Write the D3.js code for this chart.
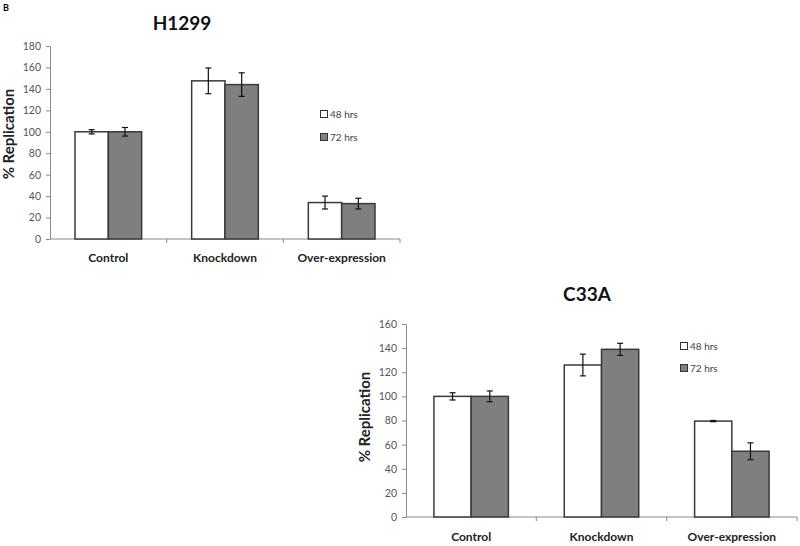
<!DOCTYPE html>
<html>
<head>
<meta charset="utf-8">
<script src="https://cdn.jsdelivr.net/npm/d3@7"></script>
<style>
  html, body { margin: 0; padding: 0; background: #fff; }
  svg { display: block; }
</style>
</head>
<body>
<script>
// ---- data ----
const categories = ["Control", "Knockdown", "Over-expression"];
const seriesNames = ["48 hrs", "72 hrs"];
const h1299Values48 = [100, 147.5, 34];
const h1299Errors48 = [2, 12, 6];
const h1299Values72 = [100, 144, 33];
const h1299Errors72 = [4, 11, 5];
const h1299Ticks = [0, 20, 40, 60, 80, 100, 120, 140, 160, 180];
const c33aValues48 = [100, 126, 79.5];
const c33aErrors48 = [3, 9, 0.5];
const c33aValues72 = [100, 139, 54.5];
const c33aErrors72 = [4.5, 5, 7];
const c33aTicks = [0, 20, 40, 60, 80, 100, 120, 140, 160];

const W = 800, H = 546;
const svg = d3.select("body").append("svg").attr("width", W).attr("height", H);
const FONT = "Lato, 'Open Sans', sans-serif";
const fills = ["#ffffff", "#7f7f7f"];

svg.append("text").attr("x", 3).attr("y", 11).text("B")
  .attr("font-family", FONT).attr("font-weight", "bold").attr("font-size", 9).attr("fill", "#000");

function drawChart(cfg) {
  const g = svg.append("g");
  const x = d3.scaleBand().domain(categories).range(cfg.xr).paddingInner(0).paddingOuter(0);
  const x1 = d3.scaleBand().domain(seriesNames).range([0, x.bandwidth()]).paddingInner(0).paddingOuter(0.75);
  const y = d3.scaleLinear().domain([0, d3.max(cfg.ticks)]).range(cfg.yr);

  // y axis
  const yAxis = g.append("g").attr("transform", `translate(${cfg.xr[0]},0)`)
    .call(d3.axisLeft(y).tickValues(cfg.ticks).tickSize(4).tickPadding(5).tickSizeOuter(0));
  yAxis.select(".domain").attr("stroke", "#8a8a8a");
  yAxis.selectAll(".tick line").attr("stroke", "#8a8a8a");
  yAxis.selectAll(".tick text").attr("font-family", FONT).attr("font-size", 10.5).attr("fill", "#555");

  // x axis
  const xAxisG = g.append("g").attr("transform", `translate(0,${cfg.yr[0]})`);
  xAxisG.append("line").attr("x1", cfg.xr[0]).attr("x2", cfg.xr[1]).attr("y1", 0).attr("y2", 0).attr("stroke", "#8a8a8a");
  const bounds = categories.map(c => x(c)).concat([x(categories[categories.length - 1]) + x.bandwidth()]);
  xAxisG.selectAll("line.bt").data(bounds.slice(1)).join("line").attr("class", "bt")
    .attr("x1", d => d).attr("x2", d => d).attr("y1", 0).attr("y2", 4).attr("stroke", "#8a8a8a");
  xAxisG.selectAll("text").data(categories).join("text")
    .attr("x", d => x(d) + x.bandwidth() / 2).attr("y", cfg.xLabelY - cfg.yr[0])
    .attr("text-anchor", "middle").attr("font-family", FONT).attr("font-weight", "bold")
    .attr("font-size", 12).attr("fill", "#222").text(d => d);

  // bars
  const rows = [];
  categories.forEach((c, i) => {
    seriesNames.forEach((s, j) => {
      rows.push({ c, s, j, v: cfg.values[j][i], e: cfg.errors[j][i] });
    });
  });
  g.selectAll("rect.bar").data(rows).join("rect").attr("class", "bar")
    .attr("x", d => x(d.c) + x1(d.s)).attr("width", x1.bandwidth())
    .attr("y", d => y(d.v)).attr("height", d => y(0) - y(d.v))
    .attr("fill", d => fills[d.j]).attr("stroke", "#3a3a3a").attr("stroke-width", 1.5);

  // error bars
  const eg = g.selectAll("g.err").data(rows).join("g").attr("class", "err");
  eg.append("line")
    .attr("x1", d => x(d.c) + x1(d.s) + x1.bandwidth() / 2)
    .attr("x2", d => x(d.c) + x1(d.s) + x1.bandwidth() / 2)
    .attr("y1", d => y(d.v + d.e)).attr("y2", d => y(d.v - d.e))
    .attr("stroke", "#111").attr("stroke-width", 1.2);
  ["top", "bot"].forEach(k => {
    eg.append("line")
      .attr("x1", d => x(d.c) + x1(d.s) + x1.bandwidth() / 2 - 3)
      .attr("x2", d => x(d.c) + x1(d.s) + x1.bandwidth() / 2 + 3)
      .attr("y1", d => y(k === "top" ? d.v + d.e : d.v - d.e))
      .attr("y2", d => y(k === "top" ? d.v + d.e : d.v - d.e))
      .attr("stroke", "#111").attr("stroke-width", 1.2);
  });

  // y label
  g.append("text")
    .attr("transform", `translate(${cfg.yLabelX},${cfg.yLabelY}) rotate(-90)`)
    .attr("text-anchor", "middle").attr("font-family", FONT).attr("font-weight", "bold")
    .attr("font-size", 15).attr("fill", "#222").text("% Replication");

  // title
  g.append("text").attr("x", cfg.titleX).attr("y", cfg.titleY).attr("text-anchor", "middle")
    .attr("font-family", FONT).attr("font-weight", "bold").attr("font-size", 19).attr("fill", "#111")
    .text(cfg.title);

  // legend
  const lg = g.selectAll("g.leg").data(seriesNames).join("g").attr("class", "leg")
    .attr("transform", (d, i) => `translate(${cfg.legX},${cfg.legY + i * cfg.legGap})`);
  lg.append("rect").attr("x", -3.5).attr("y", -3.5).attr("width", 7).attr("height", 7)
    .attr("fill", (d, i) => fills[i]).attr("stroke", "#333").attr("stroke-width", 1);
  lg.append("text").attr("x", 6).attr("y", 3.5).attr("font-family", FONT).attr("font-size", 10)
    .attr("fill", "#444").text(d => d);
}

drawChart({
  title: "H1299", titleX: 182, titleY: 30,
  xr: [50, 400], yr: [239, 46], ticks: h1299Ticks,
  values: [h1299Values48, h1299Values72], errors: [h1299Errors48, h1299Errors72],
  xLabelY: 262, yLabelX: 14, yLabelY: 134,
  legX: 324, legY: 114, legGap: 23
});

drawChart({
  title: "C33A", titleX: 587, titleY: 301,
  xr: [406, 797], yr: [517, 324], ticks: c33aTicks,
  values: [c33aValues48, c33aValues72], errors: [c33aErrors48, c33aErrors72],
  xLabelY: 541, yLabelX: 370, yLabelY: 417,
  legX: 684, legY: 346, legGap: 22
});
</script>
</body>
</html>
